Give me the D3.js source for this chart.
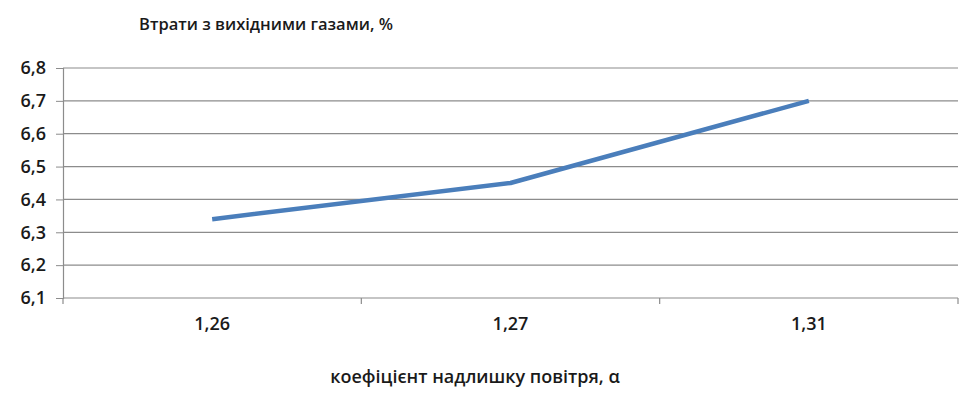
<!DOCTYPE html>
<html><head><meta charset="utf-8">
<script src="https://cdn.jsdelivr.net/npm/d3@7"></script>
<style>
body{margin:0;background:#fff;}
text{font-family:"Open Sans","Noto Sans",sans-serif;fill:#1a1a1a;}
</style></head><body>
<svg id="chart" width="969" height="394"></svg>
<script>
const categories = ["1,26", "1,27", "1,31"];
const lossValues = [6.34, 6.45, 6.70];
const yTicks = [6.1, 6.2, 6.3, 6.4, 6.5, 6.6, 6.7, 6.8];
const chartTitle = "Втрати з вихідними газами, %";
const xTitle = "коефіцієнт надлишку повітря, α";

const svg = d3.select("#chart");
const plotLeft = 63, plotRight = 958, plotTop = 68, plotBottom = 298;

const x = d3.scaleBand().domain(categories).range([plotLeft, plotRight]).padding(0);
const y = d3.scaleLinear().domain([6.1, 6.8]).range([plotBottom, plotTop]);
const fmt = d => d3.format(".1f")(d).replace(".", ",");

// horizontal gridlines
svg.append("g").selectAll("line").data(yTicks).join("line")
  .attr("x1", plotLeft).attr("x2", plotRight)
  .attr("y1", d => y(d)).attr("y2", d => y(d))
  .attr("stroke", "#8c8c8c").attr("stroke-width", 1.2);

// y axis
const yAxis = svg.append("g").attr("transform", `translate(${plotLeft},0)`)
  .call(d3.axisLeft(y).tickValues(yTicks).tickFormat(fmt).tickSize(7).tickPadding(10));
yAxis.select(".domain").attr("stroke", "#8c8c8c").attr("stroke-width", 1.2);
yAxis.selectAll(".tick line").attr("stroke", "#8c8c8c");
yAxis.selectAll("text").attr("font-size", 18).attr("font-weight", 600).attr("fill", "#222");

// x axis with category separators
const xAxis = svg.append("g").attr("transform", `translate(0,${plotBottom})`)
  .call(d3.axisBottom(x).tickSize(0).tickPadding(19));
xAxis.select(".domain").remove();
xAxis.selectAll("text").attr("font-size", 18).attr("font-weight", 600).attr("fill", "#222");
const seps = categories.map(c => x(c)).concat([x(categories[categories.length - 1]) + x.bandwidth()]);
svg.append("g").selectAll("line").data(seps).join("line")
  .attr("x1", d => d).attr("x2", d => d)
  .attr("y1", plotBottom).attr("y2", plotBottom + 6)
  .attr("stroke", "#8c8c8c").attr("stroke-width", 1.2);

// series line
const line = d3.line()
  .x((d, i) => x(categories[i]) + x.bandwidth() / 2)
  .y(d => y(d));
svg.append("path").datum(lossValues)
  .attr("d", line).attr("fill", "none")
  .attr("stroke", "#4a7ebb").attr("stroke-width", 4.5)
  .attr("stroke-linejoin", "round");

// titles
svg.append("text").attr("x", 266).attr("y", 30).attr("text-anchor", "middle")
  .attr("font-size", 16.5).attr("font-weight", 600).text(chartTitle);
svg.append("text").attr("x", 475).attr("y", 383).attr("text-anchor", "middle")
  .attr("font-size", 18).attr("font-weight", 600).text(xTitle);
</script>
</body></html>
